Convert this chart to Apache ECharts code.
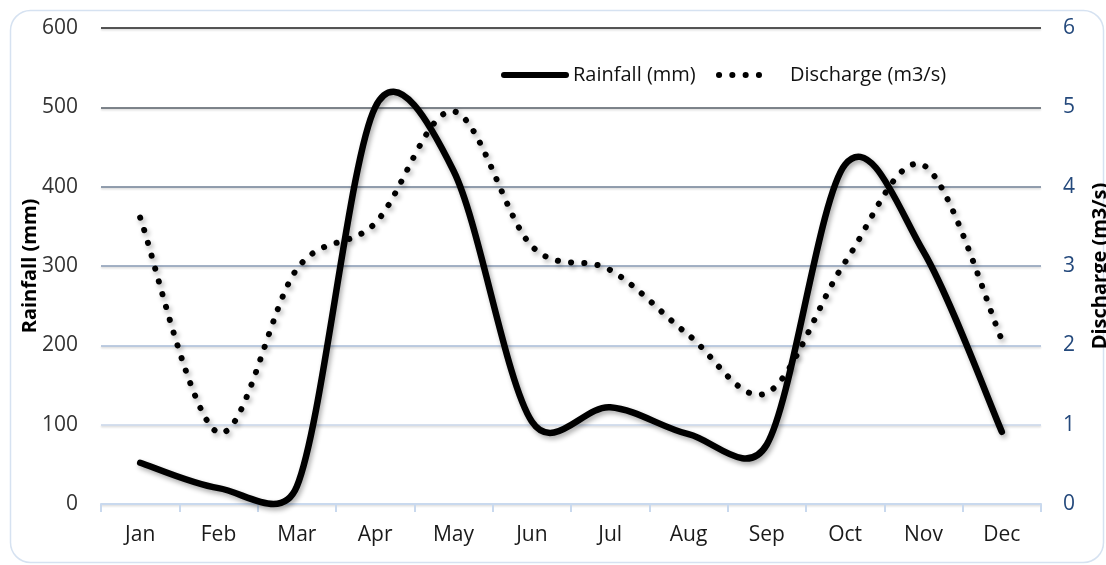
<!DOCTYPE html>
<html>
<head>
<meta charset="utf-8">
<script src="https://cdn.jsdelivr.net/npm/echarts@6/dist/echarts.min.js"></script>
<style>
  html, body { margin: 0; padding: 0; background: #ffffff; }
  #chart { width: 1106px; height: 565px; }
</style>
</head>
<body>
<div id="chart"></div>
<script>
// Monthly rainfall and river discharge
const months = ['Jan', 'Feb', 'Mar', 'Apr', 'May', 'Jun', 'Jul', 'Aug', 'Sep', 'Oct', 'Nov', 'Dec'];
const rainfallMm = [52, 20, 22, 500, 420, 104, 122, 88, 75, 428, 318, 91];
const dischargeM3s = [3.61, 0.9, 2.96, 3.54, 4.95, 3.25, 2.95, 2.13, 1.4, 3.05, 4.27, 2.07];
const rainfallTicks = [0, 100, 200, 300, 400, 500, 600];
const dischargeTicks = [0, 1, 2, 3, 4, 5, 6];

const FONT = '"Open Sans", "Noto Sans", sans-serif';
// gridline colours, bottom to top: pale blue fading to black
const gridColors = ['#c9d9ee', '#c8d6ea', '#a9bdd8', '#8699b3', '#6f7f94', '#555c66', '#1e1e1e'];

// Smooth path through the projected points: cubic Bezier segments whose
// control arms are 1/6 of the neighbour chord, capped at half the segment.
function smoothPath(pts) {
  const dist = (a, b) => Math.hypot(b[0] - a[0], b[1] - a[1]);
  const arm = (prev, next, segLen) => {
    let dx = (next[0] - prev[0]) / 6, dy = (next[1] - prev[1]) / 6;
    const len = Math.hypot(dx, dy);
    if (len > segLen / 2 && len > 0) {
      const s = (segLen / 2) / len;
      dx *= s; dy *= s;
    }
    return [dx, dy];
  };
  let d = 'M' + pts[0][0] + ',' + pts[0][1];
  for (let i = 0; i < pts.length - 1; i++) {
    const p0 = pts[Math.max(i - 1, 0)], p1 = pts[i], p2 = pts[i + 1], p3 = pts[Math.min(i + 2, pts.length - 1)];
    const seg = dist(p1, p2);
    const a1 = arm(p0, p2, seg), a2 = arm(p1, p3, seg);
    d += ' C' + (p1[0] + a1[0]) + ',' + (p1[1] + a1[1]) + ' ' +
         (p2[0] - a2[0]) + ',' + (p2[1] - a2[1]) + ' ' + p2[0] + ',' + p2[1];
  }
  return d;
}

function curveSeries(name, values, axisIndex, lineStyle) {
  return {
    name: name,
    type: 'custom',
    yAxisIndex: axisIndex,
    data: values.map((v, i) => [i, v]),
    encode: { x: 0, y: 1 },
    clip: false,
    renderItem: function (params, api) {
      if (params.dataIndex !== 0) return null;
      const pts = values.map((v, i) => api.coord([i, v]));
      return {
        type: 'path',
        shape: { pathData: smoothPath(pts) },
        style: Object.assign({
          fill: null,
          stroke: '#000',
          shadowColor: 'rgba(0,0,0,0.33)',
          shadowBlur: 5,
          shadowOffsetX: 2,
          shadowOffsetY: 3
        }, lineStyle)
      };
    }
  };
}

const chart = echarts.init(document.getElementById('chart'), null, { renderer: 'canvas' });

const legendY = 75;
chart.setOption({
  backgroundColor: '#ffffff',
  animation: false,
  graphic: [{
    type: 'rect',
    shape: { x: 10.5, y: 10.5, width: 1093, height: 552, r: 20 },
    style: { fill: 'none', stroke: '#d6e2f1', lineWidth: 1.5 },
    z: -10
  }, {
    // legend: solid line key
    type: 'line',
    shape: { x1: 504, y1: legendY, x2: 566, y2: legendY },
    style: { stroke: '#000', lineWidth: 6, lineCap: 'round' }
  }, {
    type: 'text',
    x: 573, y: legendY,
    style: { text: 'Rainfall (mm)', font: '20px ' + FONT, fill: '#111', verticalAlign: 'middle' }
  }, {
    // legend: dotted line key
    type: 'line',
    shape: { x1: 719, y1: legendY, x2: 772, y2: legendY },
    style: { stroke: '#000', lineWidth: 6, lineCap: 'round', lineDash: [0.1, 13.2] }
  }, {
    type: 'text',
    x: 790, y: legendY,
    style: { text: 'Discharge (m3/s)', font: '20px ' + FONT, fill: '#111', verticalAlign: 'middle' }
  }],
  grid: { left: 101, right: 65, top: 28, bottom: 61, containLabel: false, outerBoundsMode: 'none' },
  xAxis: {
    type: 'category',
    data: months,
    boundaryGap: true,
    axisLine: { lineStyle: { color: '#c9d9ee', width: 2 } },
    axisTick: { show: true, length: 8, lineStyle: { color: '#c9d9ee', width: 2 } },
    axisLabel: { fontFamily: FONT, fontSize: 21, color: '#1a1a1a', margin: 21 },
    splitLine: { show: false }
  },
  yAxis: [{
    type: 'value',
    min: rainfallTicks[0],
    max: rainfallTicks[rainfallTicks.length - 1],
    interval: rainfallTicks[1] - rainfallTicks[0],
    name: 'Rainfall (mm)',
    nameLocation: 'middle',
    nameGap: 61,
    nameMoveOverlap: false,
    nameTextStyle: { fontFamily: FONT, fontSize: 20, fontWeight: 'bold', color: '#000' },
    axisLine: { show: false },
    axisTick: { show: false },
    axisLabel: { fontFamily: FONT, fontSize: 21, color: '#333', margin: 23 },
    splitLine: {
      show: true,
      lineStyle: {
        color: gridColors, width: 1.6,
        shadowColor: 'rgba(0,0,0,0.18)', shadowBlur: 2, shadowOffsetY: 1.5
      }
    }
  }, {
    type: 'value',
    position: 'right',
    min: dischargeTicks[0],
    max: dischargeTicks[dischargeTicks.length - 1],
    interval: dischargeTicks[1] - dischargeTicks[0],
    name: 'Discharge (m3/s)',
    nameLocation: 'middle',
    nameGap: 49,
    nameMoveOverlap: false,
    nameTextStyle: { fontFamily: FONT, fontSize: 20, fontWeight: 'bold', color: '#000' },
    axisLine: { show: false },
    axisTick: { show: false },
    axisLabel: { fontFamily: FONT, fontSize: 21, color: '#24497c', margin: 22 },
    splitLine: { show: false }
  }],
  series: [
    curveSeries('Rainfall (mm)', rainfallMm, 0, { lineWidth: 6.5, lineCap: 'round', lineJoin: 'round' }),
    curveSeries('Discharge (m3/s)', dischargeM3s, 1, { lineWidth: 6, lineCap: 'round', lineDash: [0.1, 13.2] })
  ]
});
</script>
</body>
</html>
